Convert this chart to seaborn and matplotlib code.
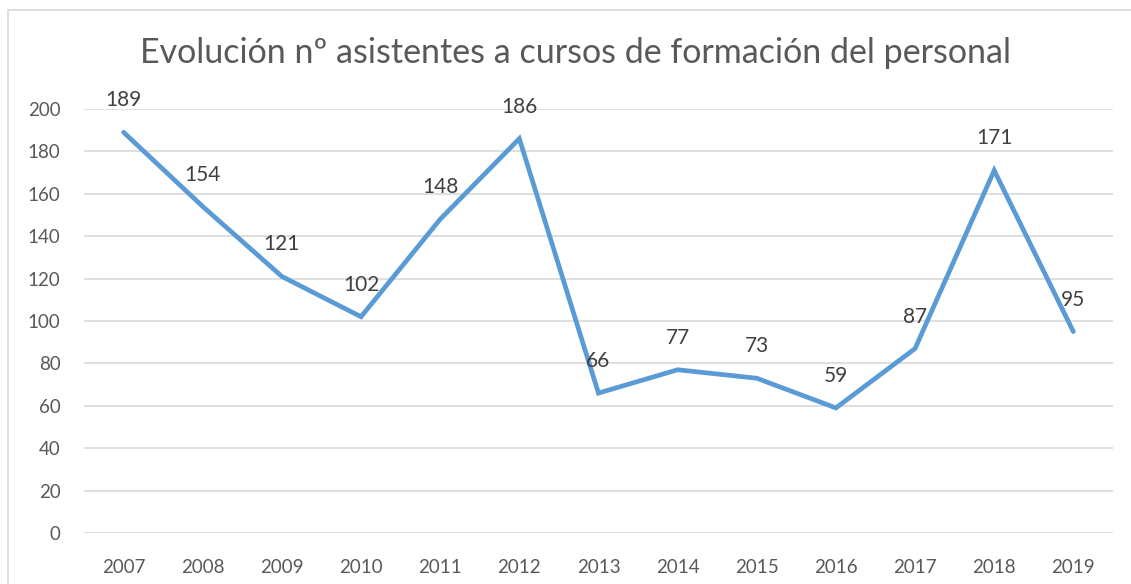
import matplotlib
matplotlib.use("Agg")
import matplotlib.pyplot as plt
import seaborn as sns
import pandas as pd
from matplotlib.patches import Rectangle

years = ["2007", "2008", "2009", "2010", "2011", "2012", "2013",
         "2014", "2015", "2016", "2017", "2018", "2019"]
attendees = [189, 154, 121, 102, 148, 186, 66, 77, 73, 59, 87, 171, 95]
y_ticks = [0, 20, 40, 60, 80, 100, 120, 140, 160, 180, 200]

sns.set_theme(style="white")
plt.rcParams["font.family"] = ["Lato", "DejaVu Sans"]

df = pd.DataFrame({"pos": range(len(years)), "year": years, "value": attendees})

fig = plt.figure(figsize=(11.31, 5.84), dpi=100)
fig.patch.set_facecolor("white")
ax = fig.add_axes([0.0743, 0.0873, 0.9097, 0.7261])

# light outer frame of the chart area
fig.patches.append(Rectangle((8 / 1131, -0.1), 1.2, 1 - 10 / 584 + 0.1,
                             transform=fig.transFigure, fill=False,
                             edgecolor="#D9D9D9", linewidth=1.2))

sns.lineplot(data=df, x="pos", y="value", ax=ax, color="#5B9BD5",
             linewidth=3.4, solid_capstyle="round", solid_joinstyle="miter")

for p, v in zip(df["pos"], df["value"]):
    ax.annotate(str(v), (p, v), xytext=(0, 22), textcoords="offset pixels",
                ha="center", va="bottom", fontsize=15, color="#404040",
                annotation_clip=False)

ax.set_xlim(-0.5, len(years) - 0.5)
ax.set_ylim(0, 200)
ax.set_yticks(y_ticks)
ax.set_xticks(list(df["pos"]))
ax.set_xticklabels(years)
ax.yaxis.grid(True, color="#D9D9D9", linewidth=1.2)
ax.set_axisbelow(True)
for s in ax.spines.values():
    s.set_visible(False)
ax.tick_params(axis="both", length=0, labelsize=13.5, colors="#595959")
ax.tick_params(axis="y", pad=17)
ax.tick_params(axis="x", pad=19)
ax.set_xlabel("")
ax.set_ylabel("")

fig.text(575 / 1131, 1 - 53 / 584, "Evolución nº asistentes a cursos de formación del personal",
         ha="center", va="center", fontsize=24.5, color="#595959")

fig.savefig("out.png", dpi=100)
